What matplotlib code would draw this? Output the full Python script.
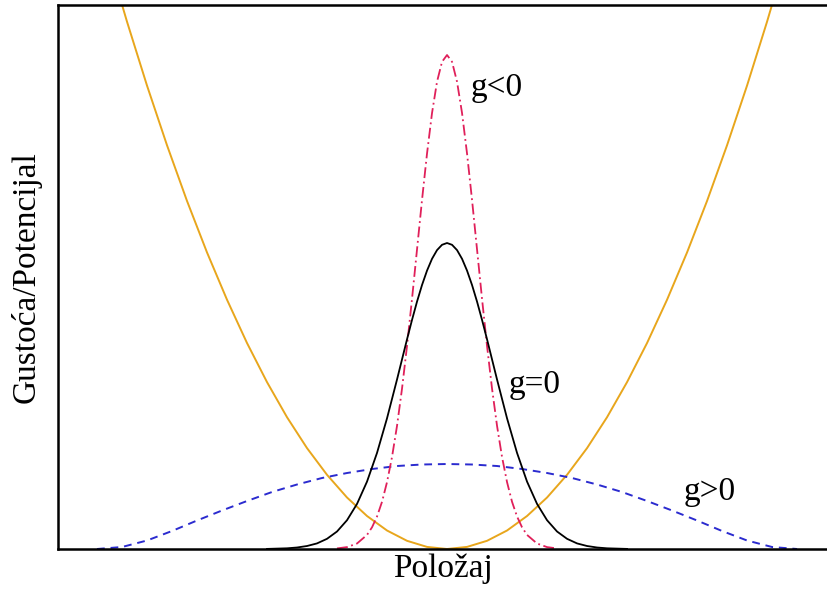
import matplotlib
matplotlib.use("Agg")
import matplotlib.pyplot as plt

# Position (arbitrary units, centre of trap = 0)
x_pot = [-3.4, -3.2, -3.0, -2.8, -2.6, -2.4, -2.2, -2.0, -1.8, -1.6, -1.4, -1.2, -1.0, -0.8, -0.6, -0.4, -0.2,
         0.0, 0.2, 0.4, 0.6, 0.8, 1.0, 1.2, 1.4, 1.6, 1.8, 2.0, 2.2, 2.4, 2.6, 2.8, 3.0, 3.2, 3.4]
potential = [5.953, 5.274, 4.635, 4.038, 3.481, 2.966, 2.493, 2.06, 1.669, 1.318, 1.009, 0.742, 0.515, 0.330, 0.185, 0.082, 0.021,
             0.0, 0.021, 0.082, 0.185, 0.330, 0.515, 0.742, 1.009, 1.318, 1.669, 2.06, 2.493, 2.966, 3.481, 4.038, 4.635, 5.274, 5.953]

# g = 0 density
x_g0 = [-1.8, -1.6, -1.5, -1.4, -1.3, -1.2, -1.1, -1.0, -0.9, -0.8, -0.7, -0.6, -0.5, -0.45, -0.4, -0.35, -0.3, -0.25,
        -0.2, -0.15, -0.1, -0.05,
        0.0, 0.05, 0.1, 0.15, 0.2, 0.25, 0.3, 0.35, 0.4, 0.45, 0.5, 0.6, 0.7, 0.8, 0.9, 1.0, 1.1, 1.2, 1.3, 1.4, 1.5, 1.6, 1.8]
dens_g0 = [0.001, 0.007, 0.015, 0.030, 0.056, 0.102, 0.175, 0.288, 0.451, 0.674, 0.961, 1.307, 1.695, 1.896, 2.097, 2.291, 2.474, 2.640,
           2.784, 2.902, 2.989, 3.042,
           3.06, 3.042, 2.989, 2.902, 2.784, 2.640, 2.474, 2.291, 2.097, 1.896, 1.695, 1.307, 0.961, 0.674, 0.451, 0.288, 0.175, 0.102, 0.056, 0.030, 0.015, 0.007, 0.001]

# g < 0 density
x_gneg = [-1.1, -1.0, -0.9, -0.8, -0.75, -0.7, -0.65, -0.6, -0.55, -0.5, -0.45, -0.4, -0.35, -0.3, -0.25, -0.2, -0.15, -0.1, -0.05,
          0.0, 0.05, 0.1, 0.15, 0.2, 0.25, 0.3, 0.35, 0.4, 0.45, 0.5, 0.55, 0.6, 0.65, 0.7, 0.75, 0.8, 0.9, 1.0, 1.1]
dens_gneg = [0.006, 0.019, 0.055, 0.141, 0.217, 0.325, 0.472, 0.669, 0.920, 1.232, 1.604, 2.031, 2.501, 2.996, 3.491, 3.955, 4.360, 4.673, 4.872,
             4.94, 4.872, 4.673, 4.360, 3.955, 3.491, 2.996, 2.501, 2.031, 1.604, 1.232, 0.920, 0.669, 0.472, 0.325, 0.217, 0.141, 0.055, 0.019, 0.006]

# g > 0 density
x_gpos = [-3.5, -3.25, -3.0, -2.75, -2.5, -2.25, -2.0, -1.75, -1.5, -1.25, -1.0, -0.75, -0.5, -0.25,
          0.0, 0.25, 0.5, 0.75, 1.0, 1.25, 1.5, 1.75, 2.0, 2.25, 2.5, 2.75, 3.0, 3.25, 3.5]
dens_gpos = [0.0, 0.02, 0.085, 0.18, 0.285, 0.385, 0.48, 0.57, 0.645, 0.71, 0.76, 0.80, 0.83, 0.845,
             0.85, 0.845, 0.83, 0.80, 0.76, 0.71, 0.645, 0.57, 0.48, 0.385, 0.285, 0.18, 0.085, 0.02, 0.0]

labels = ["g<0", "g=0", "g>0"]
xlabel = "Položaj"
ylabel = "Gustoća/Potencijal"

fig = plt.figure(figsize=(8.27, 5.89), dpi=100)
ax = fig.add_axes([0.0701, 0.0679, 0.93, 0.9236])

ax.plot(x_pot, potential, color="#E8A61C", lw=1.4)
ax.plot(x_gpos, dens_gpos, color="#2B2BCF", lw=1.4, ls=(0, (4, 3)))
ax.plot(x_gneg, dens_gneg, color="#E0205A", lw=1.3, ls=(0, (6, 2, 1, 2)))
ax.plot(x_g0, dens_g0, color="black", lw=1.3)

ax.set_xlim(-3.89, 3.80)
ax.set_ylim(0, 5.44)
ax.set_xticks([])
ax.set_yticks([])
ax.spines["right"].set_visible(False)
for s in ["left", "top", "bottom"]:
    ax.spines[s].set_linewidth(1.8)

font = dict(family=["Liberation Serif", "DejaVu Serif"], fontsize=24)
ax.text(0.50, 4.61, labels[0], ha="center", va="center", **font)
ax.text(0.88, 1.64, labels[1], ha="center", va="center", **font)
ax.text(2.63, 0.57, labels[2], ha="center", va="center", **font)

ax.set_xlabel(xlabel, labelpad=3, **font)
ax.set_ylabel(ylabel, labelpad=12, **font)

fig.savefig("out.png", dpi=100)
